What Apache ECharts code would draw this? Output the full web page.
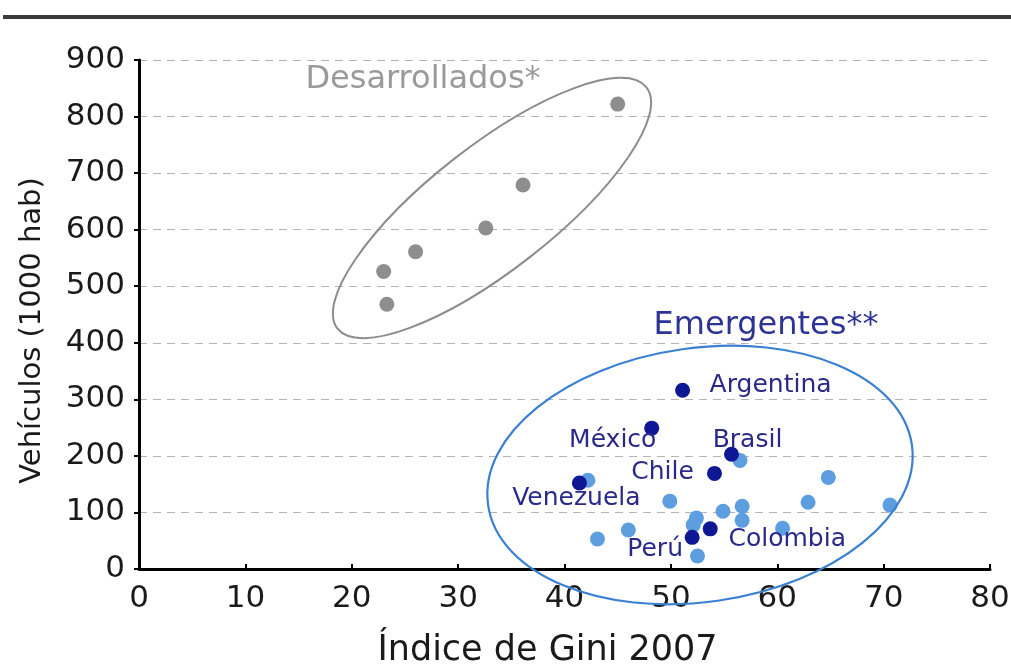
<!DOCTYPE html>
<html>
<head>
<meta charset="utf-8">
<script src="https://cdn.jsdelivr.net/npm/echarts@6/dist/echarts.min.js"></script>
<style>
  html, body { margin: 0; padding: 0; background: #fff; }
  #chart { width: 1011px; height: 668px; }
</style>
</head>
<body>
<div id="chart"></div>
<script>
// países desarrollados (gris)
const devGini = [45.0, 36.1, 32.6, 26.0, 23.0, 23.3];
const devVeh = [822, 679, 603, 561, 526, 468];

// emergentes sin etiqueta (azul claro)
const emGini = [42.2, 56.5, 49.9, 54.9, 56.7, 56.7, 52.4, 52.1, 46.0, 43.1, 52.5, 64.8, 62.9, 70.6, 60.5];
const emVeh = [157, 192, 120, 102, 111, 86, 90, 78, 69, 53, 23, 162, 118, 113, 72];

// América Latina (azul oscuro, con etiqueta)
const latNames = ['Argentina', 'México', 'Brasil', 'Chile', 'Venezuela', 'Colombia', 'Perú'];
const latGini = [51.1, 48.2, 55.7, 54.1, 41.4, 53.7, 52.0];
const latVeh = [316, 249, 203, 169, 152, 71, 56];
const latLabelOffset = [[88, -5], [-39, 12], [16, -14], [-52, -1], [-3, 15], [77, 11], [-37, 12]];

const xTicks = [0, 80, 10];
const yTicks = [0, 900, 100];

const FONT = 'DejaVu Sans';

const pairs = (xs, ys) => xs.map((x, i) => [x, ys[i]]);

let myChart = echarts.init(document.getElementById('chart'));

const option = {
  backgroundColor: '#fff',
  animation: false,
  grid: { left: 139, right: 21, top: 60, bottom: 99, outerBoundsMode: 'none', containLabel: false },
  xAxis: {
    type: 'value',
    min: xTicks[0], max: xTicks[1], interval: xTicks[2],
    name: 'Índice de Gini 2007',
    nameLocation: 'middle',
    nameGap: 64,
    nameTextStyle: { fontFamily: FONT, fontSize: 35, color: '#1a1a1a', padding: [0, 34, 0, 0] },
    axisLine: { lineStyle: { color: '#000', width: 3 } },
    axisTick: { inside: true, length: 5, lineStyle: { color: '#000', width: 2 } },
    axisLabel: { fontFamily: FONT, fontSize: 31, color: '#1a1a1a', margin: 14 },
    splitLine: { show: false }
  },
  yAxis: {
    type: 'value',
    min: yTicks[0], max: yTicks[1], interval: yTicks[2],
    name: 'Vehículos (1000 hab)',
    nameLocation: 'middle',
    nameGap: 92,
    nameTextStyle: { fontFamily: FONT, fontSize: 29, color: '#1a1a1a', padding: [0, 32, 0, 0] },
    axisLine: { show: true, lineStyle: { color: '#000', width: 3 } },
    axisTick: { show: true, length: 5, lineStyle: { color: '#000', width: 2 } },
    axisLabel: { fontFamily: FONT, fontSize: 31, color: '#1a1a1a', margin: 14 },
    splitLine: { show: true, lineStyle: { color: '#b4b4b4', width: 1, type: [8, 6] } }
  },
  series: [
    {
      name: 'Desarrollados',
      type: 'scatter',
      symbolSize: 15,
      itemStyle: { color: '#8e8e8e', opacity: 1 },
      data: pairs(devGini, devVeh)
    },
    {
      name: 'Emergentes',
      type: 'scatter',
      symbolSize: 15,
      itemStyle: { color: '#5d9ee0', opacity: 1 },
      data: pairs(emGini, emVeh)
    },
    {
      name: 'América Latina',
      type: 'scatter',
      symbolSize: 15,
      itemStyle: { color: '#0f1894', opacity: 1 },
      label: {
        show: true,
        position: 'inside',
        fontFamily: FONT,
        fontSize: 25,
        color: '#29298a',
        opacity: 1,
        formatter: p => latNames[p.dataIndex]
      },
      data: latGini.map((x, i) => ({
        value: [x, latVeh[i]],
        label: { offset: latLabelOffset[i] }
      }))
    }
  ],
  graphic: [
    // línea superior
    { type: 'rect', left: 3, top: 15, shape: { width: 1008, height: 4 }, style: { fill: '#3a3a3a' } },
    {
      type: 'ellipse', x: 492, y: 208, rotation: 38 * Math.PI / 180,
      shape: { cx: 0, cy: 0, rx: 196, ry: 62 },
      style: { fill: 'none', stroke: '#8c8c8c', lineWidth: 2 }, z: 10
    },
    {
      type: 'ellipse', x: 700, y: 475, rotation: 8 * Math.PI / 180,
      shape: { cx: 0, cy: 0, rx: 214, ry: 127 },
      style: { fill: 'none', stroke: '#3a80d2', lineWidth: 2.2 }, z: 10
    },
    {
      type: 'text', x: 423, y: 80, z: 10,
      style: { text: 'Desarrollados*', fontFamily: FONT, fontSize: 32, fill: '#9a9a9a', textAlign: 'center', textVerticalAlign: 'middle' }
    },
    {
      type: 'text', x: 766, y: 326, z: 10,
      style: { text: 'Emergentes**', fontFamily: FONT, fontSize: 32, fill: '#2e3496', textAlign: 'center', textVerticalAlign: 'middle' }
    }
  ]
};

myChart.setOption(option);
</script>
</body>
</html>
